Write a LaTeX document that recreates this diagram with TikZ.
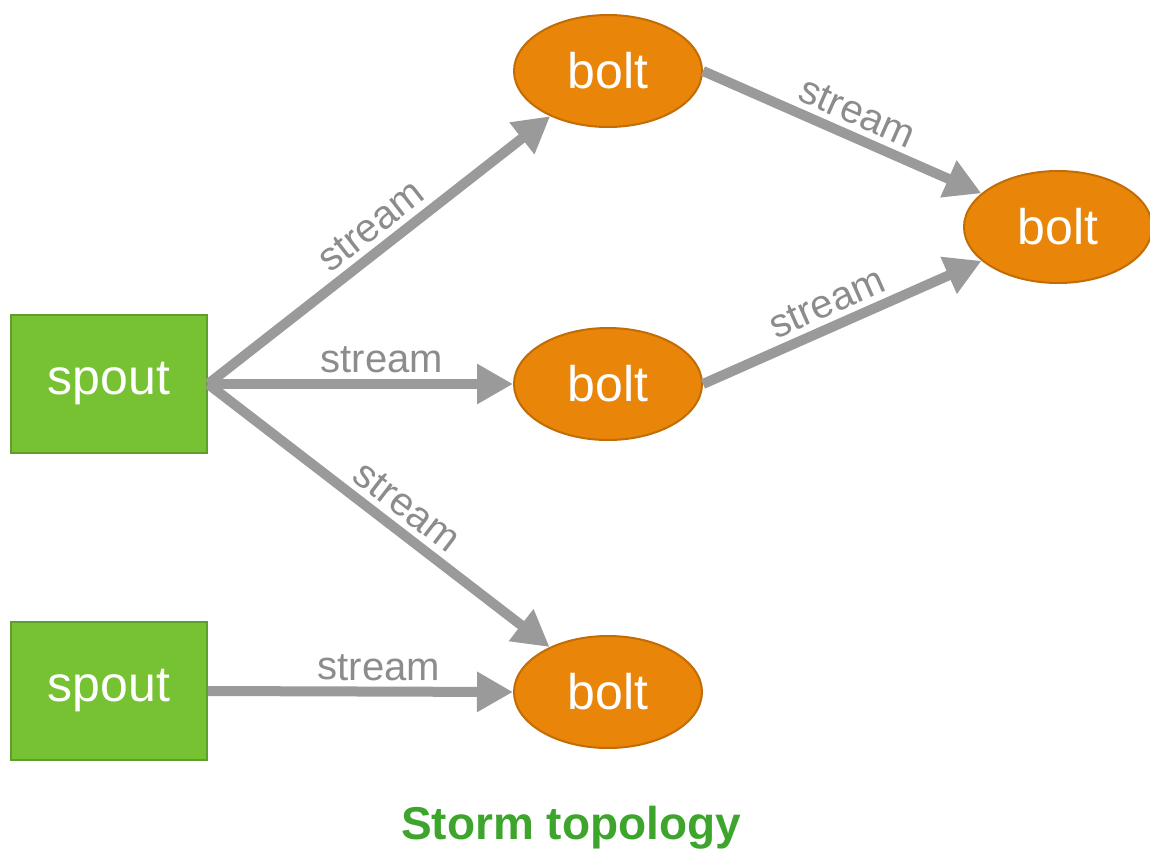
\documentclass[tikz,border=0pt]{standalone}
\usepackage{fontspec}
\setmainfont{Liberation Sans}
\usetikzlibrary{shapes.geometric,arrows.meta}
\definecolor{spoutgreen}{HTML}{77C232}
\definecolor{spoutedge}{HTML}{5E9F2C}
\definecolor{boltorange}{HTML}{E9860A}
\definecolor{boltedge}{HTML}{C26C05}
\definecolor{streamgray}{HTML}{9A9A9A}
\definecolor{labelgray}{HTML}{8C8C8C}
\definecolor{titlegreen}{HTML}{3DA52B}
\tikzset{
  spout/.style={draw=spoutedge, line width=2pt, fill=spoutgreen, text=white,
    minimum width=196pt, minimum height=138pt, inner sep=0pt,
    font=\fontsize{50}{60}\selectfont},
  bolt/.style={ellipse, draw=boltedge, line width=2pt, fill=boltorange, text=white,
    minimum width=188pt, minimum height=112pt, inner sep=0pt,
    font=\fontsize{50}{60}\selectfont},
  stream/.style={draw=streamgray, line width=10pt,
    -{Triangle[length=36pt,width=38pt]}},
  streamlabel/.style={text=labelgray, sloped, above, inner sep=6pt,
    font=\fontsize{40}{46}\selectfont}
}
\begin{document}
\begin{tikzpicture}[x=1pt,y=-1pt]
  \useasboundingbox (0,0) rectangle (1150,854);
  % spouts
  \node[spout] (spoutA) at (109,384) {spout};
  \node[spout] (spoutB) at (109,691) {spout};
  % bolts
  \node[bolt] (boltA) at (608,71) {bolt};
  \node[bolt] (boltB) at (608,384) {bolt};
  \node[bolt] (boltC) at (608,692) {bolt};
  \node[bolt] (boltD) at (1058,227) {bolt};
  % streams
  \draw[stream] (spoutA.east) -- node[streamlabel,pos=0.52]{stream} (boltA);
  \draw[stream] (spoutA.east) -- node[streamlabel,pos=0.57]{stream} (boltB.west);
  \draw[stream] (spoutA.east) -- node[streamlabel,pos=0.54]{stream} (boltC);
  \draw[stream] (spoutB.east) -- node[streamlabel,pos=0.56]{stream} (boltC.west);
  \draw[stream] (boltA.east) -- node[streamlabel,pos=0.52]{stream} (boltD);
  \draw[stream] (boltB.east) -- node[streamlabel,pos=0.48]{stream} (boltD);
  \node[text=titlegreen, font=\bfseries\fontsize{46}{54}\selectfont] (title) at (571,828) {Storm topology};
\end{tikzpicture}
\end{document}
